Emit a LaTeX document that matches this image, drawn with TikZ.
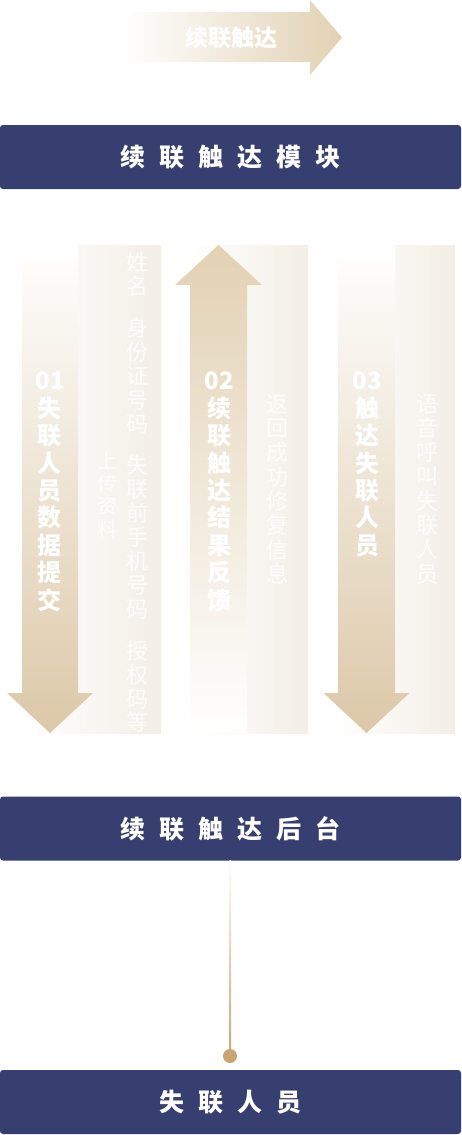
\documentclass[tikz,border=0pt]{standalone}
\usepackage{fontspec}
\setmainfont{Noto Sans CJK SC}
\usetikzlibrary{calc}
\definecolor{navy}{HTML}{363F6F}
\definecolor{tanc}{HTML}{DCC8A8}
\definecolor{tanarrow}{HTML}{E2D1B3}
\definecolor{panelc}{HTML}{F3EEE6}
\definecolor{goldc}{HTML}{C8A470}
\newcommand{\gapx}{\hspace{14pt}}
\tikzset{
  navybox/.style={rectangle, rounded corners=3pt, fill=navy, text=white, minimum width=461pt, minimum height=64pt, inner sep=0pt, font=\fontsize{25}{25}\selectfont\bfseries},
  panelbg/.style={left color=white, right color=panelc},
  mainlabel/.style={anchor=north, align=center, inner sep=0pt, text=white, font=\fontsize{24}{27.4}\selectfont\bfseries},
  sidelabel/.style={anchor=north, align=center, inner sep=0pt, text=white, text opacity=0.8, font=\fontsize{22}{24.3}\selectfont},
  longlabel/.style={anchor=north, align=center, inner sep=0pt, text=white, text opacity=0.8, font=\fontsize{22}{23.9}\selectfont},
  smalllabel/.style={anchor=north, align=center, inner sep=0pt, text=white, text opacity=0.8, font=\fontsize{20}{22.5}\selectfont},
}
\begin{document}
\begin{tikzpicture}[x=1pt,y=-1pt]
\useasboundingbox (0,0) rectangle (461,1135);
% top arrow
\shade[left color=white, right color=tanarrow] (123,12) -- (310,12) -- (310,0) -- (342,37.5) -- (310,75) -- (310,62) -- (123,62) -- cycle;
\node[text=white, inner sep=0pt, font=\fontsize{23}{23}\selectfont\bfseries] (toptxt) at (231,37.5) {续联触达};
% module box
\node[navybox] (b1) at (230.5,157) {续\gapx 联\gapx 触\gapx 达\gapx 模\gapx 块};
% panels
\shade[panelbg] (22,245) rectangle (161,733);
\shade[panelbg] (190,245) rectangle (308,733);
\shade[panelbg] (338,245) rectangle (455,733);
% arrows
\shade[top color=white, bottom color=tanc] (22,245) -- (78,245) -- (78,693) -- (93,693) -- (50,733) -- (7,693) -- (22,693) -- cycle;
\shade[top color=tanarrow, bottom color=white] (218.5,245) -- (262,285) -- (247,285) -- (247,733) -- (190,733) -- (190,285) -- (175,285) -- cycle;
\shade[top color=white, bottom color=tanc] (338,245) -- (395,245) -- (395,693) -- (409.5,693) -- (366.5,733) -- (323.5,693) -- (338,693) -- cycle;
% labels
\node[mainlabel] (l1) at (50,372) {01\\失\\联\\人\\员\\数\\据\\提\\交};
\node[longlabel] (s1) at (137.5,252) {姓\\名\\[18pt]身\\份\\证\\号\\码\\[18pt]失\\联\\前\\手\\机\\号\\码\\[18pt]授\\权\\码\\等};
\node[smalllabel] (u1) at (107.5,452) {上\\传\\资\\料};
\node[mainlabel] (l2) at (219,372) {02\\续\\联\\触\\达\\结\\果\\反\\馈};
\node[sidelabel] (s2) at (277,394) {返\\回\\成\\功\\修\\复\\信\\息};
\node[mainlabel] (l3) at (367,372) {03\\触\\达\\失\\联\\人\\员};
\node[sidelabel] (s3) at (427,394) {语\\音\\呼\\叫\\失\\联\\人\\员};
% backend box
\node[navybox] (b2) at (230.5,828.5) {续\gapx 联\gapx 触\gapx 达\gapx 后\gapx 台};
% connector
\node[circle, fill=goldc, minimum size=14pt, inner sep=0pt] (dot) at (230,1056) {};
\shade[top color=white, bottom color=goldc] ($(b2.south)+(-1,0)$) rectangle ($(dot.center)+(1,0)$);
% people box
\node[navybox] (b3) at (230.5,1102) {失\gapx 联\gapx 人\gapx 员};
\end{tikzpicture}
\end{document}
